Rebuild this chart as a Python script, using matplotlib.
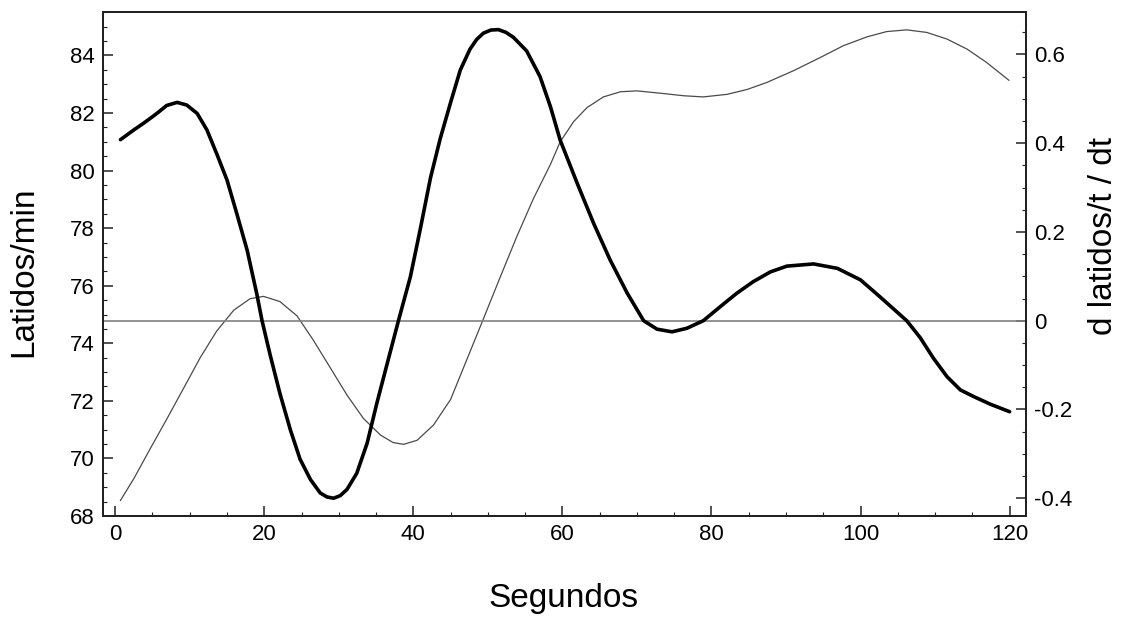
import matplotlib
matplotlib.use("Agg")
import matplotlib.pyplot as plt
from matplotlib.ticker import MultipleLocator

plt.rcParams['font.family'] = ['Liberation Sans', 'DejaVu Sans']

# Heart rate (left axis, thin line)
hr_t = [0.7, 2.5, 4.7, 6.9, 9.2, 11.4, 13.6, 15.9, 18.1, 19.9, 22.1, 24.4,
        26.6, 28.9, 31.1, 33.3, 35.6, 37.3, 38.7, 40.5, 42.7, 45.0, 47.2,
        49.4, 51.7, 53.9, 56.1, 58.4, 59.7, 61.5, 63.3, 65.5, 67.8, 70.0,
        73.1, 76.3, 78.9, 82.1, 84.8, 87.4, 91.0, 94.6, 97.7, 100.9, 103.5,
        106.2, 108.9, 111.6, 114.3, 116.9, 119.9]
hr_bpm = [68.54, 69.30, 70.34, 71.36, 72.45, 73.50, 74.42, 75.15, 75.55, 75.63,
          75.45, 74.95, 74.10, 73.13, 72.20, 71.39, 70.81, 70.55, 70.49, 70.63,
          71.16, 72.05, 73.45, 74.85, 76.33, 77.72, 79.02, 80.22, 81.00, 81.70,
          82.19, 82.56, 82.74, 82.77, 82.69, 82.60, 82.56, 82.65, 82.82, 83.06,
          83.47, 83.93, 84.34, 84.65, 84.83, 84.89, 84.80, 84.57, 84.22, 83.76,
          83.14]

# Derivative (right axis, thick line)
dv_t = [0.7, 2.5, 3.8, 5.1, 5.8, 6.9, 8.3, 9.6, 11.0, 12.3, 13.6, 15.0, 16.3,
        17.7, 19.0, 19.7, 20.8, 22.1, 23.5, 24.8, 26.2, 27.5, 28.4, 29.3,
        30.2, 31.1, 32.4, 33.8, 35.1, 36.5, 38.0, 39.6, 40.9, 42.3, 43.6,
        45.0, 46.3, 47.6, 48.5, 49.4, 50.4, 51.4, 52.4, 53.4, 55.2, 57.0,
        58.4, 59.7, 62.0, 64.2, 66.4, 68.7, 70.9, 72.7, 74.7, 76.7, 78.9,
        81.2, 83.4, 85.6, 87.9, 90.1, 93.7, 96.9, 100.0, 102.6, 104.4, 106.2,
        108.0, 109.8, 111.6, 113.4, 115.2, 117.4, 120.0]
dv_val = [0.408, 0.430, 0.445, 0.461, 0.470, 0.485, 0.492, 0.486, 0.467, 0.430,
          0.377, 0.317, 0.242, 0.159, 0.060, 0.0, -0.078, -0.164, -0.246,
          -0.312, -0.358, -0.388, -0.397, -0.400, -0.394, -0.380, -0.344,
          -0.276, -0.186, -0.096, 0.0, 0.099, 0.204, 0.322, 0.410, 0.492,
          0.565, 0.612, 0.634, 0.648, 0.655, 0.656, 0.650, 0.639, 0.608, 0.550,
          0.482, 0.407, 0.309, 0.219, 0.137, 0.062, 0.0, -0.019, -0.025,
          -0.017, 0.0, 0.032, 0.062, 0.088, 0.110, 0.123, 0.128, 0.118, 0.092,
          0.054, 0.027, 0.0, -0.038, -0.085, -0.126, -0.156, -0.171, -0.188,
          -0.205]

x_ticks = [0, 20, 40, 60, 80, 100, 120]
left_ticks = [68, 70, 72, 74, 76, 78, 80, 82, 84]
right_ticks = [-0.4, -0.2, 0, 0.2, 0.4, 0.6]
right_labels = ['-0.4', '-0.2', '0', '0.2', '0.4', '0.6']

W, H = 1121, 620
fig = plt.figure(figsize=(W / 100, H / 100), dpi=100)
ax1 = fig.add_axes([103.3 / W, 1 - 516 / H, (1026 - 103.3) / W, (516 - 12.3) / H])
ax2 = ax1.twinx()

ax1.plot(hr_t, hr_bpm, color='#4a4a4a', lw=0.9, solid_joinstyle='round')
ax2.axhline(0, color='#808080', lw=1.2)
ax2.plot(dv_t, dv_val, color='black', lw=2.6, solid_joinstyle='round',
         solid_capstyle='round')

ax1.set_xlim(-1.6, 122.2)
ax1.set_ylim(68, 85.5)
ax2.set_ylim(-0.44, 0.695)

ax1.set_xticks(x_ticks)
ax1.set_yticks(left_ticks)
ax2.set_yticks(right_ticks)
ax2.set_yticklabels(right_labels)
ax1.xaxis.set_minor_locator(MultipleLocator(5))
ax1.yaxis.set_minor_locator(MultipleLocator(0.5))
ax2.yaxis.set_minor_locator(MultipleLocator(0.05))

for ax in (ax1, ax2):
    ax.tick_params(which='major', direction='in', length=7.2, width=1.1,
                   labelsize=16, pad=6, color='#222222')
    ax.tick_params(which='minor', direction='in', length=3, width=0.8,
                   color='#222222')
    for s in ax.spines.values():
        s.set_linewidth(1.4)
        s.set_color('#222222')

ax1.tick_params(axis='x', which='both', top=False)
ax2.tick_params(axis='x', which='both', top=False, bottom=False)
ax1.tick_params(axis='y', which='both', right=False)

fig.text(564 / W, 1 - 599 / H, 'Segundos', fontsize=24, ha='center', va='center')
fig.text(24 / W, 1 - 272 / H, 'Latidos/min', fontsize=24, rotation=90,
         ha='center', va='center')
fig.text(1104 / W, 1 - 236 / H, 'd latidos/t / dt', fontsize=24, rotation=90,
         ha='center', va='center')

fig.savefig('out.png', dpi=100)
